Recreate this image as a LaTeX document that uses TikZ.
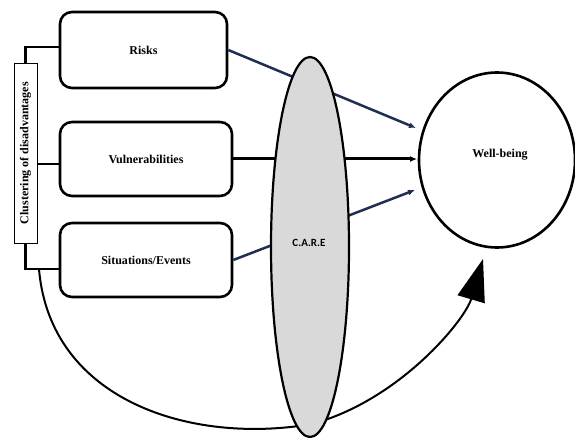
\documentclass[tikz,border=0pt]{standalone}
\usepackage{fontspec}
\setmainfont{Liberation Serif}
\newfontfamily\carefont{Carlito}
\usetikzlibrary{arrows.meta,shapes.geometric}
\definecolor{linkblue}{RGB}{31,46,82}
\definecolor{caregray}{RGB}{217,217,217}
\begin{document}
\begin{tikzpicture}[x=1pt, y=-1pt,
        factor/.style={draw, line width=2.6pt, rounded corners=12pt, minimum width=172pt,
            minimum height=74pt, font=\fontsize{12}{14}\selectfont\bfseries},
        bracket/.style={line width=2.6pt},
        link/.style={line width=2.5pt, -{Latex[length=7pt,width=6pt]}},
        feedback/.style={line width=2pt, -{Triangle[length=42pt,width=28pt]}}]
        \useasboundingbox (0,0) rectangle (575,438);
        % factors
        \node[factor, minimum width=167pt, minimum height=76pt] (risks) at (143.5,50) {Risks};
        \node[factor] (vuln) at (146,159) {Vulnerabilities};
        \node[factor] (sit) at (146,260) {Situations/Events};
        % clustering
        \node[draw, line width=0.8pt, minimum width=23pt, minimum height=180pt, inner sep=0pt,
            font=\fontsize{12}{14}\selectfont\bfseries] (cluster) at (25.5,153)
            {\rotatebox{90}{Clustering of disadvantages}};
        \coordinate (rjoin) at ([yshift=3pt]risks.west);
        \coordinate (vjoin) at ([yshift=-5pt]vuln.west);
        \coordinate (sjoin) at ([yshift=-9pt]sit.west);
        \draw[bracket] (cluster.north) |- (rjoin);
        \draw[bracket] (cluster.east |- vjoin) -- (vjoin);
        \draw[bracket] (cluster.south) |- (sjoin);
        % targets
        \coordinate (w1) at (416,128);
        \coordinate (w2) at (417,159);
        \coordinate (w3) at (415,190);
        \coordinate (loopstart) at (39,269);
        \coordinate (looptip) at (483,259);
        % links
        \draw[link, linkblue] (risks.east) -- (w1);
        \draw[link, line width=3pt] (vuln.east) -- (w2);
        \draw[link, linkblue] (sit.east) -- (w3);
        % feedback
        \draw[feedback] (loopstart) .. controls (50,400) and (190,445) .. (312,424)
            .. controls (400,400) and (465,320) .. (looptip);
        % C.A.R.E
        \node[ellipse, draw, fill=caregray, line width=2.2pt, minimum width=78pt, minimum height=380pt,
            inner sep=0pt] (care) at (310,247) {};
        \node[font=\carefont\fontsize{11}{13}\selectfont\bfseries] (carelabel) at (309,243) {C.A.R.E};
        % well-being
        \node[ellipse, draw, line width=2.6pt, minimum width=156pt, minimum height=175pt, inner sep=0pt] (well) at (497,160) {};
        \node[font=\fontsize{12}{14}\selectfont\bfseries] (welllabel) at (500,155) {Well-being};
\end{tikzpicture}
\end{document}
